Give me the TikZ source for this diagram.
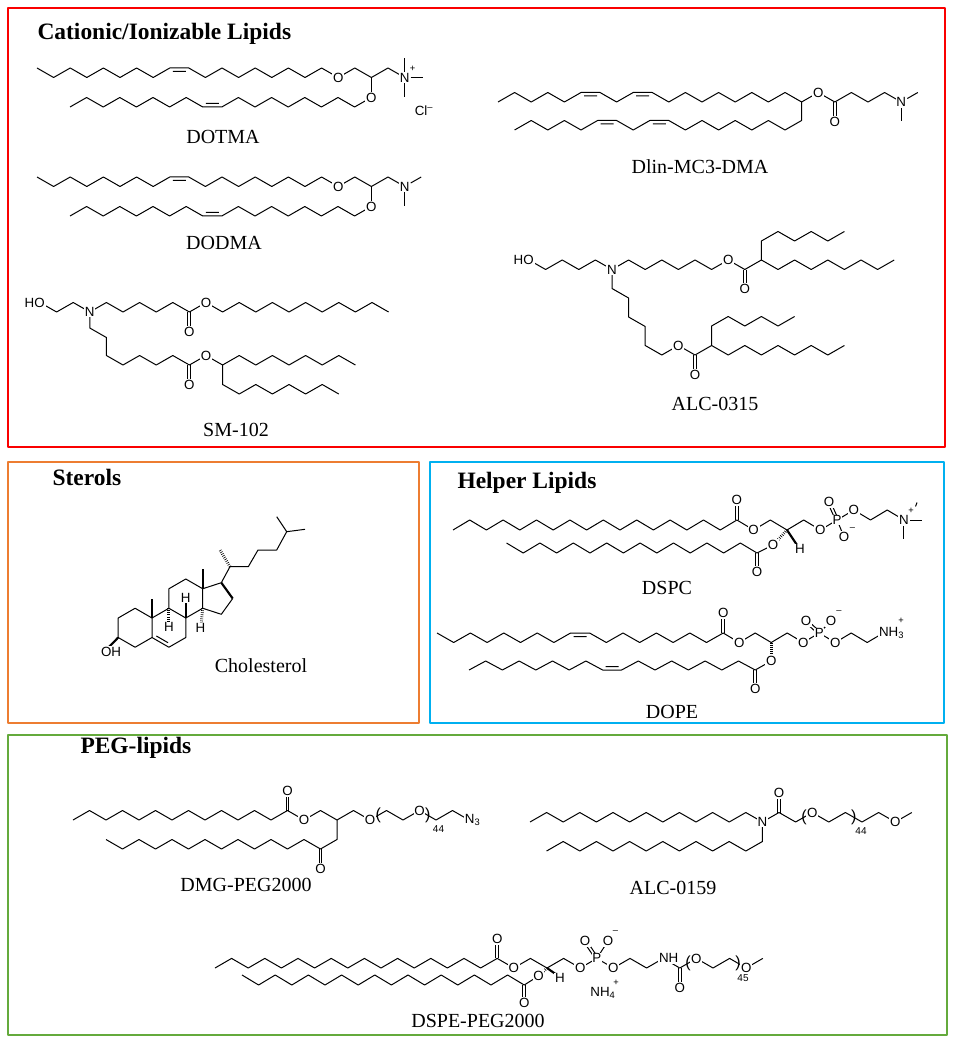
\documentclass[tikz,border=0pt]{standalone}
\usepackage{fontspec}
\setmainfont{Liberation Serif}
\newfontfamily\atomfont{Liberation Sans}
\usetikzlibrary{calc}
\definecolor{redbox}{RGB}{250,0,0}
\definecolor{orangebox}{RGB}{237,125,49}
\definecolor{bluebox}{RGB}{0,176,240}
\definecolor{greenbox}{RGB}{100,170,60}
\newcommand{\zz}[3]{\foreach \i in {1,...,#1}{ -- ++(#2,{(#3)*(1-2*mod(\i+1,2))}) }}
\newcommand{\dbl}[2]{-- ++(#1,0) ++({-(#1)+3},#2) -- ++({(#1)-6},0) ++(3,{-1*(#2)})}
\newcommand{\dbond}[2]{\draw ($(#1)!1.1pt!90:(#2)$) -- ($(#2)!1.1pt!-90:(#1)$); \draw ($(#1)!1.1pt!-90:(#2)$) -- ($(#2)!1.1pt!90:(#1)$);}
\newcommand{\dialkyl}[1]{%
  \draw (37,68) \zz{8}{16.6}{9.5} \dbl{19}{3.5} \zz{9}{16.6}{9.5} \zz{4}{16.6}{-9.5};
  \draw (70,107) \zz{8}{16.6}{-9.5} \dbl{19}{-3.5} \zz{9}{16.6}{-9.5};
  \draw (371.4,77.5) -- (371.4,97.5);
  \node[atom] (#1O1) at (338.2,77.5) {O};
  \node[atom] (#1O2) at (371.4,97.5) {O};
  \node[atom] (#1N) at (404.6,77.5) {N};
}

\begin{document}
\begin{tikzpicture}[x=0.75pt,y=-0.75pt,line width=0.75pt,line join=round,
  atom/.style={font=\atomfont\fontsize{10}{12}\selectfont,fill=white,inner sep=0.6pt},
  chg/.style={font=\atomfont\fontsize{7}{8}\selectfont,inner sep=0pt},
  sub/.style={font=\atomfont\fontsize{7.5}{8}\selectfont,inner sep=0pt},
  brk/.style={font=\atomfont\fontsize{12}{12}\selectfont,inner sep=0pt},
  lbl/.style={font=\fontsize{15}{18}\selectfont,inner sep=0pt},
  ttl/.style={font=\bfseries\fontsize{17.6}{20}\selectfont,inner sep=0pt,anchor=west},
  hashbond/.style={line width=2.2pt,dash pattern=on 0.45pt off 1.1pt},
  wedgebond/.style={line width=1.6pt},
  panel/.style={line width=1.9pt}]
		\useasboundingbox (0,0) rectangle (955,1041);
		
		%%%%% PANELS %%%%%
		\draw[panel, redbox] (8,8) rectangle (945,447);
		\draw[panel, orangebox] (8,462) rectangle (419,723);
		\draw[panel, bluebox] (430,462) rectangle (944,723);
		\draw[panel, greenbox] (8,735) rectangle (947,1035);
		
		\node[ttl] (tcat) at (37,34) {Cationic/Ionizable Lipids};
		\node[ttl] (tster) at (52,477) {Sterols};
		\node[ttl] (thelp) at (457,483) {Helper Lipids};
		\node[ttl] (tpeg) at (80,748) {PEG-lipids};
		
		%%%%% DOTMA / DODMA %%%%%
		\dialkyl{dotma}
		\draw (dotmaN) -- (404.6,58);
		\draw (dotmaN) -- (423,77.5);
		\draw (dotmaN) -- (404.6,97);
		\node[chg] (dotmaplus) at (412.5,68.5) {+};
		\node[atom] (dotmaCl) at (424,111) {Cl\textsuperscript{–}};
		\node[lbl] (ldotma) at (223,137) {DOTMA};
		
		\begin{scope}[shift={(0,109)}]
		\dialkyl{dodma}
		\end{scope}
		\draw (dodmaN) -- (421.2,177);
		\draw (dodmaN) -- (404.6,206);
		\node[lbl] (ldodma) at (224,243) {DODMA};
		
		%%%%% SM-102 %%%%%
		\draw (40,302.5) \zz{3}{16.6}{9.5} \zz{18}{16.6}{-9.5};
		\dbond{189.4,312}{189.4,331.5}
		\draw (89.8,312) -- ++(0,16) -- ++(16.6,9.5) -- ++(0,18) \zz{15}{16.6}{9.5};
		\dbond{189.4,365}{189.4,384.5}
		\draw (222.6,365) -- ++(0,19.5) \zz{7}{16.6}{9.5};
		\node[atom, anchor=east] (smHO) at (46,302.5) {HO};
		\node[atom] (smN) at (89.8,312) {N};
		\node[atom] (smO1) at (206,302.5) {O};
		\node[atom] (smO2) at (189.4,331.5) {O};
		\node[atom] (smO3) at (206,355.5) {O};
		\node[atom] (smO4) at (189.4,384.5) {O};
		\node[lbl] (lsm) at (236,430) {SM-102};
		
		%%%%% Dlin-MC3-DMA %%%%%
		\draw (498,102) \zz{5}{16.6}{-9.5} \dbl{19}{3.5} \zz{2}{16.6}{9.5} \dbl{19}{3.5} \zz{15}{16.6}{9.5};
		\draw (514.6,130) \zz{5}{16.6}{-9.5} \dbl{19}{3.5} \zz{2}{16.6}{9.5} \dbl{19}{3.5} \zz{8}{16.6}{9.5} -- (801.6,102);
		\dbond{834.8,102}{834.8,121.5}
		\node[atom] (mcO1) at (818.2,92.5) {O};
		\node[atom] (mcO2) at (834.8,121.5) {O};
		\node[atom] (mcN) at (901.2,102) {N};
		\draw (mcN) -- (917.8,92.5);
		\draw (mcN) -- (901.2,121.5);
		\node[lbl] (lmc) at (700,167) {Dlin-MC3-DMA};
		
		%%%%% ALC-0315 %%%%%
		\draw (529,260) \zz{5}{16.6}{9.5} \zz{9}{16.6}{-9.5} \zz{8}{16.6}{9.5};
		\dbond{744.8,269.5}{744.8,289}
		\draw (761.4,260) -- ++(0,-19) \zz{5}{16.6}{-9.5};
		\draw (612,269.5) -- ++(0,19) -- ++(16.6,9.5) -- ++(0,19) -- ++(16.6,9.5) -- ++(0,19) -- ++(16.6,9.5) \zz{11}{16.6}{-9.5};
		\dbond{695,355}{695,374.5}
		\draw (711.6,345.5) -- ++(0,-19.5) \zz{5}{16.6}{-9.5};
		\node[atom, anchor=east] (acHO) at (535,260) {HO};
		\node[atom] (acN) at (612,269.5) {N};
		\node[atom] (acO1) at (728.2,260) {O};
		\node[atom] (acO2) at (744.8,289) {O};
		\node[atom] (acO3) at (678.4,345.5) {O};
		\node[atom] (acO4) at (695,374.5) {O};
		\node[lbl] (lac) at (715,404) {ALC-0315};
		
		%%%%% Cholesterol %%%%%
		\coordinate (ch1) at (135.1,608.25);
		\coordinate (ch2) at (118.2,618);
		\coordinate (ch3) at (118.2,637.5);
		\coordinate (ch4) at (135.1,647.25);
		\coordinate (ch5) at (152,637.5);
		\coordinate (ch6) at (168.9,647.25);
		\coordinate (ch7) at (185.8,637.5);
		\coordinate (ch8) at (185.8,618);
		\coordinate (ch9) at (168.9,608.25);
		\coordinate (ch10) at (152,618);
		\coordinate (ch11) at (168.9,588.75);
		\coordinate (ch12) at (185.8,579);
		\coordinate (ch13) at (202.7,588.75);
		\coordinate (ch14) at (202.7,608.25);
		\coordinate (ch15) at (221.3,614.3);
		\coordinate (ch16) at (232.7,598.5);
		\coordinate (ch17) at (221.3,582.7);
		\coordinate (ch18) at (202.7,569);
		\coordinate (ch19) at (152,598.5);
		\coordinate (ch20) at (230,566.7);
		\coordinate (ch21) at (220,550);
		\coordinate (ch22) at (248.3,566.7);
		\coordinate (ch23) at (258,550);
		\coordinate (ch24) at (276.7,550);
		\coordinate (ch25) at (286.7,531.7);
		\coordinate (ch26) at (276.7,516.7);
		\coordinate (ch27) at (305,529.3);
		\draw (ch10) -- (ch1) -- (ch2) -- (ch3) -- (ch4) -- (ch5) -- cycle;
		\draw (ch10) -- (ch9) -- (ch8) -- (ch7) -- (ch6) -- (ch5);
		\draw (156.35,635.97) -- (168.05,642.72);
		\draw (ch9) -- (ch11) -- (ch12) -- (ch13) -- (ch14) -- (ch8);
		\draw (ch14) -- (ch15) -- (ch16);
		\draw[wedgebond] (ch16) -- (ch17);
		\draw (ch17) -- (ch13);
		\draw (ch17) -- (ch20) -- (ch22) -- (ch23) -- (ch24) -- (ch25) -- (ch26);
		\draw (ch25) -- (ch27);
		\draw[hashbond] (ch20) -- (ch21);
		\draw[wedgebond] (ch10) -- (ch19);
		\draw[wedgebond] (ch13) -- (ch18);
		\draw[wedgebond] (ch3) -- (108,648);
		\draw[wedgebond] (ch8) -- (185.8,602);
		\draw[hashbond] (ch9) -- (168.9,623);
		\draw[hashbond] (ch14) -- (201.3,623);
		\node[atom] (chOH) at (111,652) {OH};
		\node[atom] (chH8) at (185.8,598) {H};
		\node[atom] (chH9) at (168.9,627) {H};
		\node[atom] (chH14) at (200.5,628) {H};
		\node[lbl] (lchol) at (261,666) {Cholesterol};
		
		%%%%% DSPC %%%%%
		\draw (453,530) \zz{23}{16.7}{-10} \zz{4}{16.7}{-10};
		\dbond{736.9,520}{736.9,500}
		\draw (506.5,543) \zz{15}{16.7}{10} -- (773,545);
		\dbond{757,553}{757,572}
		\draw[hashbond] (787,530) -- (775,543);
		\draw[wedgebond] (787,530) -- (797,545);
		\dbond{837.1,520}{829,502}
		\draw (837.1,520) -- (844,537);
		\node[atom] (pcO1) at (753.6,530) {O};
		\node[atom] (pcO2) at (736.9,500) {O};
		\node[atom] (pcO3) at (773,545) {O};
		\node[atom] (pcO4) at (757,572) {O};
		\node[atom] (pcH) at (800,549) {H};
		\node[atom] (pcO5) at (820.4,530) {O};
		\node[atom] (pcP) at (837.1,520) {P};
		\node[atom] (pcO6) at (829,502) {O};
		\node[atom] (pcO7) at (844,537) {O};
		\node[chg] (pcminus) at (852.5,529) {–};
		\node[atom] (pcO8) at (853.8,510) {O};
		\node[atom] (pcN) at (903.9,520) {N};
		\draw (pcN) -- (922,520);
		\draw (pcN) -- (903.9,539);
		\node[chg] (pcplus) at (911,510.5) {+};
		\draw (915.5,506.5) -- (917,502.5);
		\node[lbl] (lpc) at (667,588) {DSPC};
		
		%%%%% DOPE %%%%%
		\draw (437,633) \zz{8}{16.7}{9.5} \dbl{19}{3.5} \zz{8}{16.7}{9.5} \zz{10}{16}{9.5};
		\dbond{723.2,633}{723.2,613}
		\dbond{819.2,633}{806,621}
		\draw (819.2,633) -- (831,621);
		\draw[hashbond] (771.2,642.5) -- (771.2,658);
		\draw (469,670) \zz{8}{16.7}{-9} \dbl{19}{-3.5} \zz{8}{16.7}{-9} -- (771.2,661);
		\dbond{755.2,670}{755.2,689}
		\node[atom] (peO1) at (739.2,642.5) {O};
		\node[atom] (peO2) at (723.2,613) {O};
		\node[atom] (peO3) at (803.2,642.5) {O};
		\node[atom] (peP) at (819.2,633) {P};
		\node[atom] (peO4) at (806,621) {O};
		\node[atom] (peO5) at (831,621) {O};
		\node[chg] (peminus) at (839,612.5) {–};
		\node[atom] (peO6) at (835.2,642.5) {O};
		\node[atom, anchor=west] (peN) at (877.8,633) {NH\textsubscript{3}};
		\node[chg] (peplus) at (901,621) {+};
		\node[atom] (peO7) at (771.2,661) {O};
		\node[atom] (peO8) at (755.2,689) {O};
		\node[lbl] (lpe) at (672,712) {DOPE};
		
		%%%%% DMG-PEG2000 %%%%%
		\draw (73,820) \zz{24}{16.5}{-9.5};
		\dbond{287.5,810.5}{287.5,791}
		\draw (106,839.5) \zz{14}{16.5}{9.5} -- ++(0,-19.5);
		\dbond{320.5,849}{320.5,868.5}
		\node[atom] (dmO1) at (304,820) {O};
		\node[atom] (dmO2) at (287.5,791) {O};
		\node[atom] (dmO3) at (320.5,868.5) {O};
		\node[atom] (dmO4) at (370,820) {O};
		\node[atom] (dmO5) at (419.5,810.5) {O};
		\node[brk] (dmbl) at (378.2,815.5) {(};
		\node[brk] (dmbr) at (427.7,815.5) {)};
		\node[sub] (dmn) at (438.5,829.5) {44};
		\node[atom, anchor=west] (dmN) at (463.6,820) {N\textsubscript{3}};
		\node[lbl] (ldm) at (246,885) {DMG-PEG2000};
		
		%%%%% ALC-0159 %%%%%
		\draw (530,822) \zz{23}{16.6}{-9.5};
		\dbond{779,812.5}{779,793}
		\draw (546.6,851) \zz{13}{16.6}{-9.5} -- ++(0,-19.5);
		\node[atom] (alN) at (762.4,822) {N};
		\node[atom] (alO1) at (779,793) {O};
		\node[atom] (alO2) at (812.2,812.5) {O};
		\node[atom] (alO3) at (895.2,822) {O};
		\node[brk] (albl) at (803.9,817.5) {(};
		\node[brk] (albr) at (853.7,817.5) {)};
		\node[sub] (aln) at (861,831) {44};
		\node[lbl] (lal) at (673,888) {ALC-0159};
		
		%%%%% DSPE-PEG2000 %%%%%
		\draw (215,968) \zz{33}{16.6}{-9.6};
		\dbond{497.2,958.4}{497.2,939}
		\dbond{679.8,968}{679.8,987.5}
		\dbond{596.8,958.4}{585,941}
		\draw (596.8,958.4) -- (608,941);
		\draw (242,975) \zz{17}{16.6}{10} -- (538.5,976);
		\dbond{524.2,985}{524.2,1003}
		\draw[hashbond] (547,968) -- (539.5,975);
		\draw[wedgebond] (547,968) -- (557,975);
		\node[atom] (spO1) at (513.8,968) {O};
		\node[atom] (spO2) at (497.2,939) {O};
		\node[atom] (spO3) at (538.5,976) {O};
		\node[atom] (spO4) at (524.2,1003) {O};
		\node[atom] (spH) at (560,978) {H};
		\node[atom] (spO5) at (580.2,968) {O};
		\node[atom] (spP) at (596.8,958.4) {P};
		\node[atom] (spO6) at (585,941) {O};
		\node[atom] (spO7) at (608,941) {O};
		\node[chg] (spminus) at (615.5,932.5) {–};
		\node[atom] (spO8) at (613.4,968) {O};
		\node[atom, anchor=west] (spN) at (657.8,958.4) {NH};
		\node[atom] (spO9) at (679.8,987.5) {O};
		\node[atom] (spO10) at (696.4,958.4) {O};
		\node[atom] (spO11) at (746.2,968) {O};
		\node[brk] (spbl) at (688,963.5) {(};
		\node[brk] (spbr) at (738,963.5) {)};
		\node[sub] (spn) at (743,978) {45};
		\node[atom] (spNH4) at (603,993) {NH\textsubscript{4}};
		\node[chg] (spplus) at (616,983) {+};
		\node[lbl] (lsp) at (478,1021) {DSPE-PEG2000};
		
\end{tikzpicture}
\end{document}
